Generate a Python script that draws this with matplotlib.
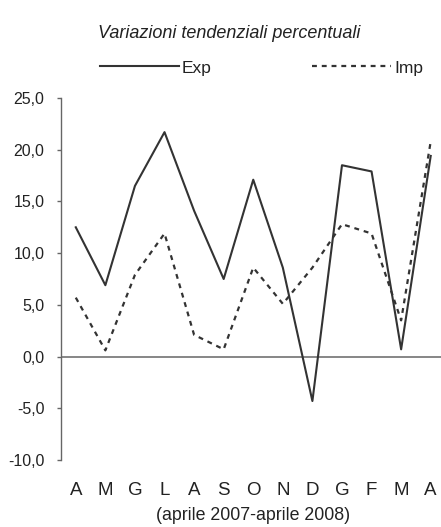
import matplotlib
matplotlib.use("Agg")
import matplotlib.pyplot as plt
from matplotlib.ticker import FuncFormatter

months = ["A", "M", "G", "L", "A", "S", "O", "N", "D", "G", "F", "M", "A"]
exp_vals = [12.5, 6.9, 16.5, 21.7, 14.1, 7.5, 17.1, 8.6, -4.3, 18.5, 17.9, 0.7, 19.4]
imp_vals = [5.7, 0.6, 7.9, 11.9, 2.1, 0.7, 8.6, 5.1, 8.6, 12.8, 11.9, 3.5, 20.8]
y_ticks = [-10, -5, 0, 5, 10, 15, 20, 25]

plt.rcParams['font.family'] = ['Liberation Sans', 'DejaVu Sans']

fig = plt.figure(figsize=(4.41, 5.27), dpi=100)
ax = fig.add_axes([61/441, 67/527, (445.5-61)/441, (460-98)/527])

x = list(range(len(months)))
line_col = "#333333"
l1, = ax.plot(x, exp_vals, color=line_col, lw=1.5, label="Exp")
l2, = ax.plot(x, imp_vals, color=line_col, lw=1.6, linestyle=(0, (2.2, 2.2)), label="Imp")

ax.axhline(0, color="#666666", lw=1.1, zorder=0)
ax.set_xlim(-0.5, len(months) - 0.5)
ax.set_ylim(-10, 25)
ax.set_yticks(y_ticks)
ax.yaxis.set_major_formatter(FuncFormatter(lambda v, p: f"{v:.1f}".replace(".", ",")))
ax.set_xticks(x)
ax.set_xticklabels(months)

for s in ["top", "right", "bottom"]:
    ax.spines[s].set_visible(False)
ax.spines["left"].set_color("#666666")
ax.spines["left"].set_linewidth(1.0)
ax.tick_params(axis="y", direction="out", length=3, width=1.0, color="#666666",
               pad=9, labelsize=11.5, labelcolor="#222222")
ax.tick_params(axis="x", length=0, pad=16, labelsize=13.5, labelcolor="#222222")

fig.text(0.52, 1 - 33/527, "Variazioni tendenziali percentuali", ha="center", va="center",
         fontsize=13, style="italic", color="#222222")
fig.text(253.5/441, 1 - 516/527, "(aprile 2007-aprile 2008)", ha="center", va="center",
         fontsize=12.8, color="#222222")

fig.legend(handles=[l1, l2], loc="center", bbox_to_anchor=(261.5/441, 1 - 68/527), ncol=2,
           frameon=False, fontsize=12.5, handlelength=4.55, handletextpad=0.15,
           columnspacing=5.8, labelcolor="#222222")

fig.savefig("out.png", dpi=100)
